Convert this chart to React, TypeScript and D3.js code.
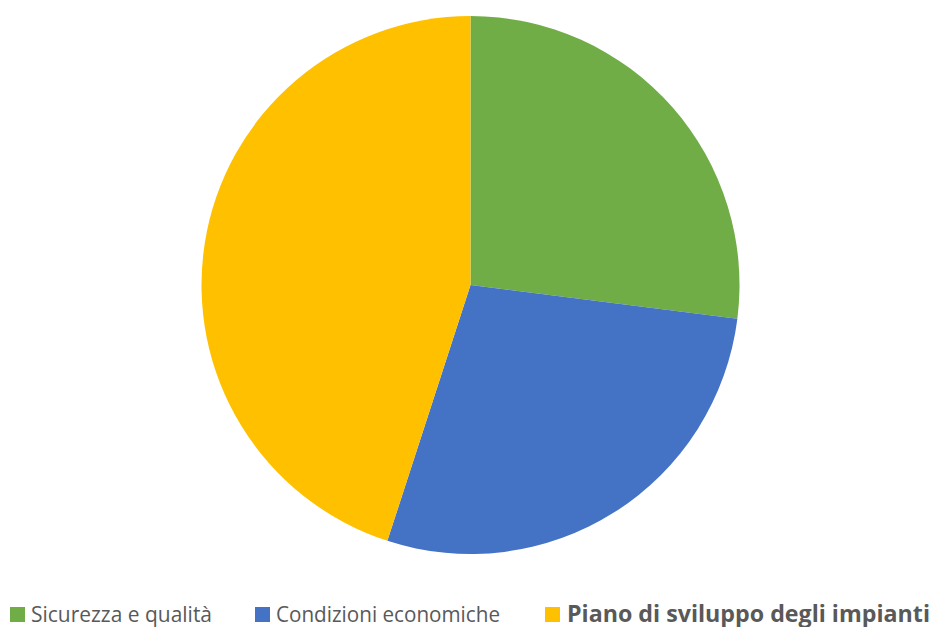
import React from "react";
import * as d3 from "d3";

const categories = ["Sicurezza e qualità", "Condizioni economiche", "Piano di sviluppo degli impianti"];
const values = [27, 28, 45];
const colors = ["#70AD47", "#4472C4", "#FFC000"];

export default function App() {
  const width = 935, height = 627;
  const cx = 470.5, cy = 285, r = 269;
  const pie = d3.pie<number>().sort(null).value((d) => d)(values);
  const arc = d3.arc<d3.PieArcDatum<number>>().innerRadius(0).outerRadius(r);
  const legend = [
    { x: 10, tx: 31, size: 21, weight: "normal", len: 181 },
    { x: 255, tx: 276, size: 21, weight: "normal", len: 224 },
    { x: 545, tx: 567, size: 23, weight: "bold", len: 363 },
  ];
  return (
    <svg width={width} height={height} style={{ position: "absolute", left: 0, top: 0 }}>
      <g transform={`translate(${cx},${cy})`}>
        {pie.map((p, i) => (
          <path key={i} d={arc(p) || ""} fill={colors[i]} />
        ))}
      </g>
      {categories.map((c, i) => (
        <g key={c}>
          <rect x={legend[i].x} y={607} width={15} height={15} fill={colors[i]} />
          <text
            x={legend[i].tx}
            y={621.5}
            fontSize={legend[i].size}
            fontWeight={legend[i].weight}
            fill="#595959"
            textLength={legend[i].len}
            lengthAdjust="spacingAndGlyphs"
            fontFamily="'Open Sans', sans-serif"
          >
            {c}
          </text>
        </g>
      ))}
    </svg>
  );
}
